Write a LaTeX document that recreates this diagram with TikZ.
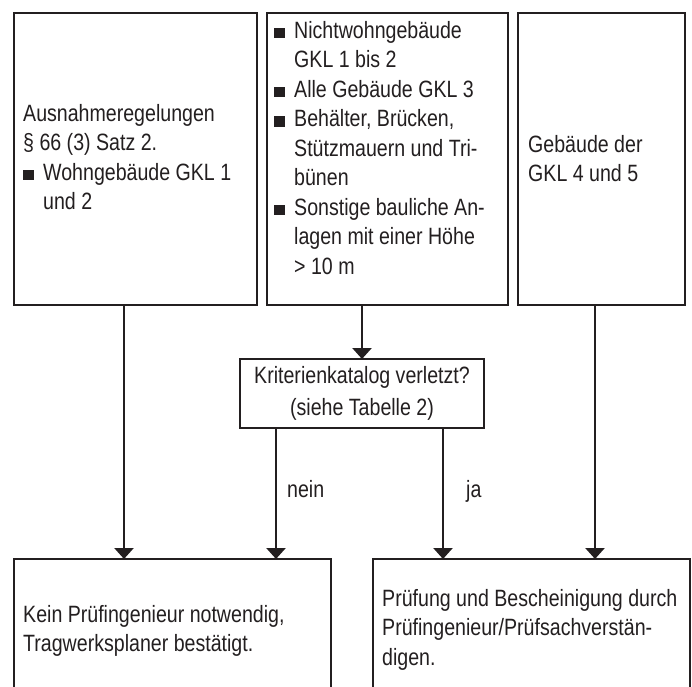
\documentclass[tikz,border=0pt]{standalone}
\usepackage{fontspec}
\setmainfont[FakeStretch=0.83]{Liberation Sans}
\usetikzlibrary{arrows.meta}
\definecolor{ink}{HTML}{231F20}
\newcommand{\myfs}{\fontsize{23.6}{29.5}\selectfont}
\newcommand{\myfsk}{\fontsize{23.6}{32}\selectfont}
\newcommand{\bul}{\makebox[20pt][l]{\rule{10.5pt}{10.5pt}}}
\newcommand{\ind}{\hspace*{20pt}}
\begin{document}
\begin{tikzpicture}[x=1pt,y=-1pt,
  box/.style={draw=ink, line width=2.7pt, inner sep=0pt, outer sep=0pt, anchor=north west},
  txt/.style={anchor=base west, inner sep=0pt, text=ink, font=\myfs},
  arr/.style={draw=ink, line width=2.6pt, -{Triangle[width=19pt,length=11pt]}}]
\path[use as bounding box] (0,0) rectangle (692,686);
\fill[white] (0,0) rectangle (692,686);
\clip (0,0) rectangle (692,686);
% top boxes
\node[box, minimum width=243pt, minimum height=292pt] (A) at (14,13) {};
\node[box, minimum width=241pt, minimum height=292pt] (B) at (267,13) {};
\node[box, minimum width=167pt, minimum height=292pt] (C) at (518,13) {};
% decision box
\node[box, anchor=center, minimum width=244pt, minimum height=69pt, align=center, font=\myfsk, text=ink] (K) at (362,393.5) {Kriterienkatalog verletzt?\\(siehe Tabelle 2)};
% bottom boxes
\node[box, minimum width=317pt, minimum height=170pt] (L) at (14,559) {};
\node[box, minimum width=317pt, minimum height=170pt] (R) at (373,559) {};
% texts
\node[txt] (tA) at (23,121) {\parbox[t]{240pt}{\raggedright Ausnahmeregelungen\\ § 66 (3) Satz 2.\\ \bul Wohngebäude GKL 1\\ \ind und 2}};
\node[txt] (tB) at (274,38) {\parbox[t]{235pt}{\raggedright \bul Nichtwohngebäude\\ \ind GKL 1 bis 2\\ \bul Alle Gebäude GKL 3\\ \bul Behälter, Brücken,\\ \ind Stützmauern und Tri-\\ \ind bünen\\ \bul Sonstige bauliche An-\\ \ind lagen mit einer Höhe\\ \ind > 10 m}};
\node[txt] (tC) at (528,152) {\parbox[t]{160pt}{\raggedright Gebäude der\\ GKL 4 und 5}};
\node[txt] (tL) at (23,622) {\parbox[t]{305pt}{\raggedright Kein Prüfingenieur notwendig,\\ Tragwerksplaner bestätigt.}};
\node[txt] (tR) at (382,606) {\parbox[t]{305pt}{\raggedright Prüfung und Bescheinigung durch\\ Prüfingenieur/Prüfsachverstän-\\ digen.}};
\node[txt] (nein) at (287,497) {nein};
\node[txt] (ja) at (466,497) {ja};
% connectors
\draw[arr] ([xshift=-11.5pt]A.south) -- ([xshift=-11.5pt]A.south |- L.north);
\draw[arr] (K.north |- B.south) -- (K.north);
\draw[arr] ([xshift=-86pt]K.south) -- ([xshift=-86pt]K.south |- L.north);
\draw[arr] ([xshift=81pt]K.south) -- ([xshift=81pt]K.south |- R.north);
\draw[arr] ([xshift=-6.5pt]C.south) -- ([xshift=-6.5pt]C.south |- R.north);
\end{tikzpicture}
\end{document}
